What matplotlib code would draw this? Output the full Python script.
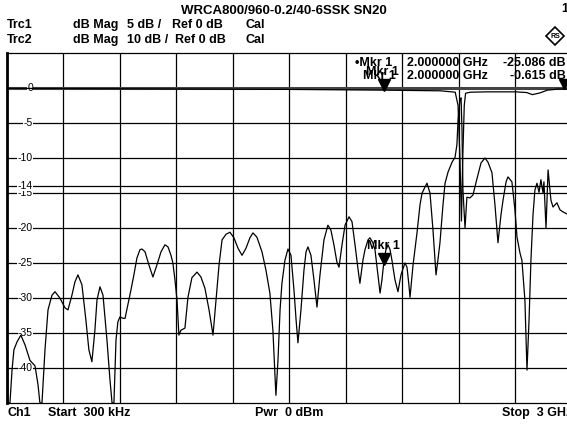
import matplotlib
matplotlib.use('Agg')
import matplotlib.pyplot as plt
from matplotlib.transforms import offset_copy

plt.rcParams['font.family'] = ['Liberation Sans', 'DejaVu Sans']

# Trc1: dB Mag, 5 dB/div (frequency in MHz)
f1 = [0.3, 5, 16, 27, 37, 53, 74, 96, 122, 149, 165, 175, 186, 202, 218, 239, 255, 281, 308, 324,
      345, 361, 377, 398, 419, 435, 451, 467, 478, 494, 510, 531, 547, 558, 568, 579, 589, 600, 616, 627,
      642, 658, 674, 690, 706, 717, 733, 754, 775, 796, 818, 839, 855, 871, 881, 892, 903, 913, 924, 945,
      961, 982, 1009, 1030, 1051, 1073, 1094, 1110, 1126, 1142, 1163, 1184, 1205, 1227, 1248, 1269, 1290, 1306, 1327, 1354,
      1375, 1396, 1412, 1428, 1439, 1450, 1460, 1476, 1492, 1508, 1524, 1535, 1545, 1561, 1577, 1588, 1598, 1614, 1630, 1646,
      1662, 1683, 1704, 1720, 1736, 1752, 1763, 1779, 1795, 1816, 1832, 1848, 1864, 1874, 1890, 1901, 1917, 1927, 1943, 1954,
      1970, 1981, 1991, 2000, 2012, 2023, 2034, 2044, 2060, 2076, 2092, 2113, 2124, 2134, 2140, 2156, 2177, 2193, 2204, 2230,
      2246, 2262, 2278, 2288, 2299, 2315, 2326, 2342, 2363, 2379, 2389, 2395, 2405, 2411, 2416, 2421, 2432, 2442, 2458, 2474,
      2496, 2517, 2538, 2554, 2575, 2591, 2607, 2623, 2634, 2650, 2660, 2681, 2697, 2708, 2724, 2734, 2750, 2761, 2772, 2782,
      2793, 2803, 2814, 2825, 2835, 2846, 2851, 2862, 2873, 2888, 2899, 2920, 2936, 2952, 2974, 3000]
db1 = [-30.7, -45, -45, -40.3, -37.4, -36.3, -35.3, -36.7, -38.9, -39.7, -42.4, -45, -45, -37.4, -31.7, -29.6, -29.1, -30.0, -31.4, -31.7,
       -29.6, -27.7, -26.7, -28.1, -33.1, -37.4, -39.1, -34.6, -30.3, -28.4, -29.6, -36.0, -41.7, -45, -45, -36.0, -33.4, -32.7, -32.9, -32.9,
       -31.0, -28.9, -26.7, -24.3, -23.1, -23.0, -23.4, -25.3, -27.0, -25.3, -23.4, -22.4, -22.7, -23.9, -25.0, -27.4, -30.3, -35.3, -34.6, -34.3,
       -29.9, -27.1, -26.3, -27.0, -28.6, -31.7, -35.3, -30.3, -25.3, -21.7, -20.9, -20.6, -21.4, -22.9, -23.9, -22.9, -21.4, -20.7, -21.3, -23.4,
       -26.0, -29.3, -34.6, -43.9, -38.9, -31.7, -27.9, -24.6, -23.0, -23.9, -28.9, -33.1, -36.4, -31.7, -26.0, -23.4, -22.7, -23.9, -27.4, -31.3,
       -26.7, -21.7, -19.6, -20.3, -22.4, -24.9, -25.6, -22.4, -19.6, -18.4, -19.1, -22.4, -25.9, -27.9, -24.6, -23.1, -21.7, -21.4, -22.1, -23.1,
       -26.7, -29.3, -27.4, -25.086, -23.1, -22.4, -23.1, -24.6, -27.4, -29.1, -26.7, -25.0, -25.6, -28.1, -29.9, -25.3, -20.7, -16.7, -15.0, -13.6,
       -15.0, -20.3, -26.7, -24.6, -22.1, -16.7, -13.6, -12.0, -10.6, -9.9, -8.1, -4.6, -1.7, -1.4, -6.0, -14.6, -20.0, -15.6, -15.7, -15.3,
       -12.9, -10.7, -10.0, -10.6, -12.1, -16.7, -22.1, -18.1, -16.0, -13.4, -12.7, -13.4, -17.4, -21.3, -23.6, -24.6, -30.3, -40.3, -33.1, -24.6,
       -18.1, -14.6, -13.6, -14.9, -13.1, -15.0, -13.4, -20.0, -11.7, -16.0, -17.0, -16.4, -17.4, -17.7, -18.0, -18.1]

# Trc2: dB Mag, 10 dB/div
f2 = [0.3, 500, 1000, 1500, 2000, 2300, 2380, 2395, 2405, 2413, 2420, 2428, 2435, 2460, 2550, 2700,
      2760, 2790, 2830, 2870, 2930, 3000]
db2 = [-0.1, -0.2, -0.3, -0.4, -0.615, -0.8, -1.2, -5, -20, -38, -20, -5, -1.5, -1.2, -1.1, -1.1,
       -1.3, -1.9, -1.4, -0.6, -0.3, -0.3]

ytick_vals = [0, -5, -10, -15, -14, -20, -25, -30, -35, -40]

fig = plt.figure(figsize=(5.67, 4.24), dpi=100)
W, H = 567, 424
ax = fig.add_axes([7 / W, 21 / H, 565 / W, 350 / H])
ax.set_xlim(0.3, 3000)
ax.set_ylim(-45, 5)
ax.set_xticks([])
ax.set_yticks([])
for s in ax.spines.values():
    s.set_linewidth(0.9)
ax.spines['left'].set_linewidth(2)
ax.spines['right'].set_visible(False)

# grid
for k in range(1, 10):
    ax.axvline(300 * k, color='black', lw=0.9, zorder=1)
for v in [-5, -10, -15, -20, -25, -30, -35, -40]:
    ax.axhline(v, color='black', lw=0.9, zorder=1)
ax.axhline(-14, color='black', lw=0.9, zorder=1)
ax.axhline(0, color='#444444', lw=2.2, zorder=1)

# y labels inside the grid
ytf = ax.get_yaxis_transform()
for v in ytick_vals:
    ax.text(0.046, v, str(v), transform=ytf, ha='right', va='center', fontsize=7.5,
            bbox=dict(facecolor='white', edgecolor='none', pad=0.3), zorder=3)

ax.plot(f1, db1, color='black', lw=0.9, zorder=4, clip_on=True)

ax2 = ax.twinx()
ax2.set_ylim(-90, 10)
ax2.axis('off')
ax2.plot(f2, db2, color='black', lw=0.9, zorder=4)

# markers
tr = offset_copy(ax.transData, fig=fig, x=0, y=5, units='dots')
ax.plot(2000, -25.086, marker='v', ms=8, color='black', transform=tr, zorder=5)
ax.text(2000, -25.086, 'Mkr 1', transform=offset_copy(ax.transData, fig=fig, x=0, y=12, units='dots'),
        ha='center', va='bottom', fontsize=9, fontweight='bold', zorder=5)
tr2 = offset_copy(ax2.transData, fig=fig, x=0, y=5, units='dots')
ax2.plot(2000, -0.615, marker='v', ms=8, color='black', transform=tr2, zorder=5)
ax2.plot(2960, -0.3, marker='v', ms=7, color='black', transform=tr2, zorder=5)

# header texts (figure pixel coords)
def ftxt(x, y, s, **kw):
    kw.setdefault('fontsize', 9)
    kw.setdefault('fontweight', 'bold')
    fig.text(x / W, 1 - y / H, s, va='center', **kw)

ftxt(284, 11, 'WRCA800/960-0.2/40-6SSK SN20', ha='center', fontsize=9.5)
ftxt(7, 25, 'Trc1')
ftxt(73, 25, 'dB Mag')
ftxt(127, 25, '5 dB /')
ftxt(172, 25, 'Ref 0 dB')
ftxt(245, 25, 'Cal')
ftxt(7, 40, 'Trc2')
ftxt(73, 40, 'dB Mag')
ftxt(127, 40, '10 dB /')
ftxt(175, 40, 'Ref 0 dB')
ftxt(245, 40, 'Cal')
ftxt(561, 9, '1')
fig.patches.append(plt.Polygon([[555 / W, 1 - 27 / H], [564 / W, 1 - 36 / H], [555 / W, 1 - 45 / H], [546 / W, 1 - 36 / H]],
                               closed=True, fill=False, ec='black', lw=1.2, transform=fig.transFigure))
ftxt(555, 36, 'RS', ha='center', fontsize=5)

# marker table
ftxt(355, 63, '\u2022Mkr 1')
ftxt(407, 63, '2.000000 GHz')
ftxt(566, 63, '-25.086 dB', ha='right')
ftxt(363, 76, 'Mkr 1')
ftxt(366, 72, 'Mkr 1')
ftxt(407, 76, '2.000000 GHz')
ftxt(566, 76, '-0.615 dB', ha='right')

# footer
ftxt(7, 413, 'Ch1')
ftxt(48, 413, 'Start  300 kHz')
ftxt(255, 413, 'Pwr  0 dBm')
ftxt(502, 413, 'Stop  3 GHz')

fig.savefig('out.png', dpi=100)
